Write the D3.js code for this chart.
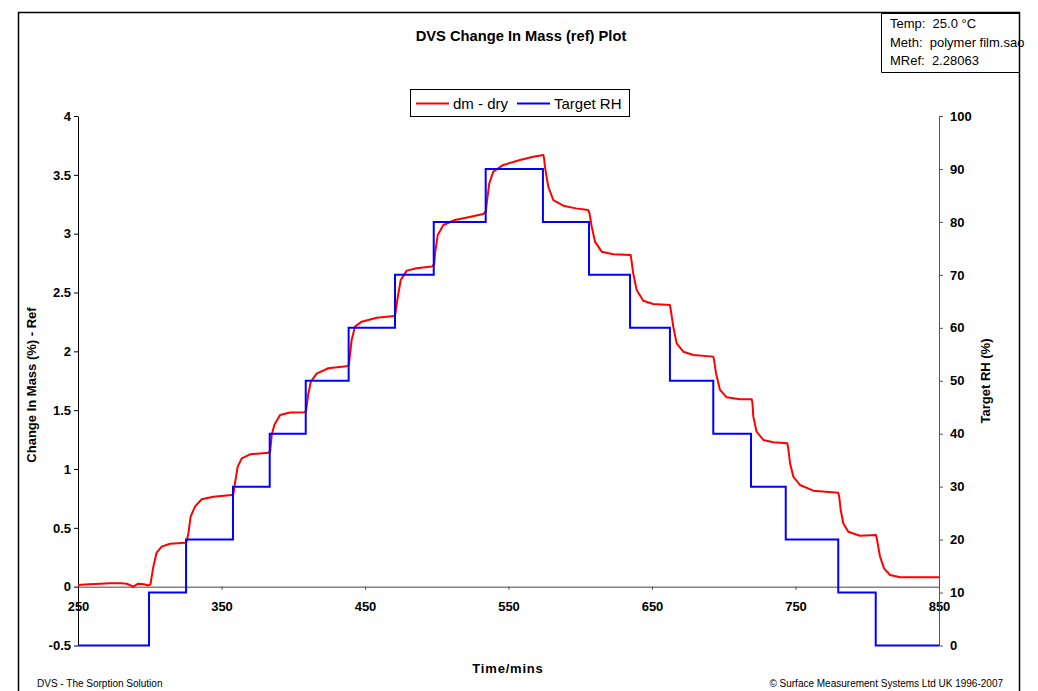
<!DOCTYPE html>
<html>
<head>
<meta charset="utf-8">
<script src="https://cdn.jsdelivr.net/npm/d3@7"></script>
<style>
  body { margin: 0; background: #fff; }
  svg { display: block; font-family: "Liberation Sans", Arial, sans-serif; }
  .tick text { font-size: 13px; font-weight: bold; fill: #000; }
  .axis-label { font-size: 13px; font-weight: bold; }
  .footer { font-size: 10px; }
  .info { font-size: 13px; white-space: pre; }
</style>
</head>
<body>
<div id="wrapper"></div>
<script>
// Target RH step series (right axis): step start times and values
const rhTime = [250, 299.5, 325.3, 358, 383.6, 408.7, 438.6, 470.9, 497.9, 534.1,
  574, 606.1, 634.7, 662.5, 692.7, 719, 743.2, 779.8, 805.9, 850]
const rhValue = [0, 10, 20, 30, 40, 50, 60, 70, 80, 90,
  80, 70, 60, 50, 40, 30, 20, 10, 0, 0]

// dm - dry series (left axis)
const massTime = [
  250, 258, 266, 272, 280, 284, 288.5, 292, 296, 299,
  300.5, 302.5, 304.8, 308.3, 314.1, 324.6,
  325.6, 326.9, 328.5, 331.5, 336.2, 344.3, 357.1,
  358.3, 359.4, 361.3, 364.1, 369.9, 382.6,
  383.9, 385, 386.8, 390.8, 397.7, 408.2,
  409, 410.5, 412.2, 416.3, 424.4, 438.4,
  438.9, 440.7, 443, 447.7, 458.2, 470.4,
  471.2, 472.5, 474.9, 479.1, 486, 496.5,
  498.2, 498.8, 500.7, 504.6, 512.7, 522, 532.4,
  534.3, 534.8, 536.6, 539.4, 546.4, 558, 567.3, 574.3,
  574.8, 575.4, 577.7, 581.2, 588.2, 597, 605.6,
  606.5, 608, 610.3, 614.9, 623, 635.1,
  635.5, 636.9, 639.3, 643.9, 650.9, 662.5,
  663, 664.8, 667.2, 671.8, 678.8, 692.7,
  693.2, 694.6, 697.4, 702, 711.3, 719.5,
  720, 720.6, 722.9, 727.6, 734.5, 744.3,
  745, 746.2, 748.5, 753.1, 762.4, 779.8,
  780.5, 781.5, 783.3, 786.8, 794.9, 806.1,
  806.8, 808.9, 811.7, 815.9, 822.9, 850
]
const massChange = [
  0.015, 0.02, 0.025, 0.03, 0.028, 0.025, 0.0, 0.025, 0.02, 0.01,
  0.02, 0.17, 0.29, 0.34, 0.365, 0.374,
  0.38, 0.45, 0.595, 0.68, 0.743, 0.765, 0.78,
  0.79, 0.879, 1.02, 1.09, 1.125, 1.139,
  1.15, 1.289, 1.374, 1.459, 1.48, 1.482,
  1.5, 1.64, 1.74, 1.81, 1.856, 1.876,
  1.9, 2.097, 2.21, 2.252, 2.286, 2.30,
  2.32, 2.436, 2.606, 2.686, 2.706, 2.72,
  2.74, 2.833, 2.989, 3.074, 3.116, 3.14, 3.167,
  3.19, 3.258, 3.428, 3.527, 3.584, 3.626, 3.654, 3.668,
  3.64, 3.569, 3.40, 3.286, 3.238, 3.215, 3.201,
  3.17, 3.059, 2.932, 2.847, 2.825, 2.819,
  2.79, 2.663, 2.521, 2.43, 2.402, 2.394,
  2.36, 2.21, 2.068, 1.997, 1.969, 1.955,
  1.93, 1.814, 1.672, 1.609, 1.593, 1.593,
  1.56, 1.445, 1.317, 1.247, 1.227, 1.219,
  1.17, 1.049, 0.935, 0.864, 0.816, 0.799,
  0.76, 0.652, 0.539, 0.467, 0.433, 0.439,
  0.40, 0.255, 0.156, 0.099, 0.08, 0.08
]

const xTicks = [250, 350, 450, 550, 650, 750, 850]
const leftTicks = [-0.5, 0, 0.5, 1, 1.5, 2, 2.5, 3, 3.5, 4]
const rightTicks = [0, 10, 20, 30, 40, 50, 60, 70, 80, 90, 100]
const infoLines = ["Temp:  25.0 \u00B0C", "Meth:  polymer film.sao", "MRef:  2.28063"]

const dimensions = {
  width: 1038,
  height: 691,
  plotLeft: 78,
  plotRight: 939,
  plotTop: 116,
  plotBottom: 645.5,
}

const wrapper = d3.select("#wrapper")
  .append("svg")
  .attr("width", dimensions.width)
  .attr("height", dimensions.height)

wrapper.append("rect")
  .attr("width", dimensions.width)
  .attr("height", dimensions.height)
  .attr("fill", "#fff")

// page frame
wrapper.append("path")
  .attr("d", "M18.5,700 V12.5 H1019.5 V700")
  .attr("fill", "none")
  .attr("stroke", "#000")
  .attr("stroke-width", 1.5)

// scales
const xScale = d3.scaleLinear()
  .domain([250, 850])
  .range([dimensions.plotLeft, dimensions.plotRight])
const yLeft = d3.scaleLinear()
  .domain([-0.5, 4])
  .range([dimensions.plotBottom, dimensions.plotTop])
const yRight = d3.scaleLinear()
  .domain([0, 100])
  .range([dimensions.plotBottom, dimensions.plotTop])

// axes
const xAxis = wrapper.append("g")
  .attr("transform", `translate(0,${yLeft(0)})`)
  .call(d3.axisBottom(xScale).tickValues(xTicks).tickSize(3).tickSizeOuter(0).tickPadding(12))
xAxis.select(".domain").attr("stroke", "#444")
xAxis.selectAll(".tick line").attr("stroke", "#444")

const leftAxis = wrapper.append("g")
  .attr("transform", `translate(${dimensions.plotLeft},0)`)
  .call(d3.axisLeft(yLeft).tickValues(leftTicks).tickSize(4).tickSizeOuter(0)
    .tickFormat(d => String(d)))
leftAxis.select(".domain").attr("stroke", "#000")

const rightAxis = wrapper.append("g")
  .attr("transform", `translate(${dimensions.plotRight},0)`)
  .call(d3.axisRight(yRight).tickValues(rightTicks).tickSize(4).tickSizeOuter(0).tickPadding(7))
rightAxis.select(".domain").attr("stroke", "#555")
rightAxis.selectAll(".tick line").attr("stroke", "#555")

// lines
const massLine = d3.line()
  .x(i => xScale(massTime[i]))
  .y(i => yLeft(massChange[i]))
wrapper.append("path")
  .attr("d", massLine(d3.range(massTime.length)))
  .attr("fill", "none")
  .attr("stroke", "#ff0000")
  .attr("stroke-width", 2)
  .attr("stroke-linejoin", "round")

const rhLine = d3.line()
  .x(i => xScale(rhTime[i]))
  .y(i => yRight(rhValue[i]))
  .curve(d3.curveStepAfter)
wrapper.append("path")
  .attr("d", rhLine(d3.range(rhTime.length)))
  .attr("fill", "none")
  .attr("stroke", "#0000ff")
  .attr("stroke-width", 2)

// titles
wrapper.append("text")
  .attr("x", 521)
  .attr("y", 41)
  .attr("text-anchor", "middle")
  .style("font-size", "14.7px")
  .style("font-weight", "bold")
  .text("DVS Change In Mass (ref) Plot")

wrapper.append("text")
  .attr("class", "axis-label")
  .attr("transform", "translate(36,385) rotate(-90)")
  .attr("text-anchor", "middle")
  .text("Change In Mass (%) - Ref")

wrapper.append("text")
  .attr("class", "axis-label")
  .attr("transform", "translate(990,381) rotate(-90)")
  .attr("text-anchor", "middle")
  .text("Target RH (%)")

wrapper.append("text")
  .attr("class", "axis-label")
  .attr("x", 508)
  .attr("y", 673)
  .attr("text-anchor", "middle")
  .style("letter-spacing", "0.8px")
  .text("Time/mins")

// legend
const legend = wrapper.append("g")
legend.append("rect")
  .attr("x", 410.5).attr("y", 89.5)
  .attr("width", 219).attr("height", 27)
  .attr("fill", "#fff").attr("stroke", "#000")
const legendItems = [
  { label: "dm - dry", color: "#ff0000", x: 416 },
  { label: "Target RH", color: "#0000ff", x: 517 },
]
legendItems.forEach(item => {
  legend.append("line")
    .attr("x1", item.x).attr("x2", item.x + 33)
    .attr("y1", 103.5).attr("y2", 103.5)
    .attr("stroke", item.color).attr("stroke-width", 2)
  legend.append("text")
    .attr("x", item.x + 37).attr("y", 109)
    .style("font-size", "15px")
    .text(item.label)
})

// info box top right
const info = wrapper.append("g")
info.append("path")
  .attr("d", "M1019.5,13.5 H881.5 V72.5 H1019.5")
  .attr("fill", "none").attr("stroke", "#000")
info.selectAll("text")
  .data(infoLines)
  .join("text")
  .attr("class", "info")
  .attr("x", 890)
  .attr("y", (d, i) => 28 + i * 18.5)
  .text(d => d)

// footer
wrapper.append("text")
  .attr("class", "footer")
  .attr("x", 37).attr("y", 687)
  .text("DVS - The Sorption Solution")
wrapper.append("text")
  .attr("class", "footer")
  .attr("x", 1003).attr("y", 687)
  .attr("text-anchor", "end")
  .text("\u00A9 Surface Measurement Systems Ltd UK 1996-2007")
</script>
</body>
</html>
